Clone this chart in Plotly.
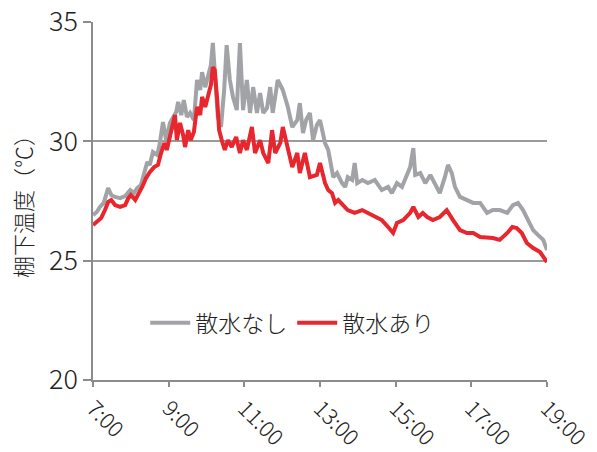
import plotly.graph_objects as go

# 棚下温度の推移（散水なし / 散水あり）
time_dry = ["7:00", "7:06", "7:11", "7:17", "7:24", "7:29", "7:35", "7:43", "7:51", "7:59",
            "8:05", "8:10", "8:16", "8:19", "8:26", "8:30", "8:35", "8:42", "8:46", "8:51",
            "8:56", "9:02", "9:07", "9:12", "9:15", "9:20", "9:24", "9:29", "9:34", "9:40",
            "9:45", "9:50", "9:53", "9:58", "10:02", "10:07", "10:10", "10:13", "10:18", "10:23",
            "10:28", "10:32", "10:37", "10:42", "10:48", "10:53", "10:58", "11:04", "11:09", "11:14",
            "11:20", "11:25", "11:30", "11:36", "11:41", "11:45", "11:53", "12:01", "12:09", "12:16",
            "12:24", "12:28", "12:33", "12:38", "12:44", "12:49", "12:55", "13:00", "13:05", "13:08",
            "13:13", "13:16", "13:21", "13:27", "13:35", "13:40", "13:44", "13:51", "13:55", "13:59",
            "14:07", "14:16", "14:27", "14:38", "14:48", "14:54", "15:02", "15:10", "15:18", "15:23",
            "15:28", "15:31", "15:39", "15:47", "15:55", "16:02", "16:10", "16:18", "16:23", "16:29",
            "16:34", "16:42", "16:53", "17:03", "17:14", "17:25", "17:34", "17:45", "17:57", "18:06",
            "18:14", "18:22", "18:30", "18:38", "18:46", "18:54", "19:00"]
temp_dry = [26.91, 27.04, 27.25, 27.42, 28.04, 27.75, 27.67, 27.62, 27.71, 27.96,
            27.83, 28.04, 28.17, 28.50, 29.13, 29.01, 29.55, 29.43, 29.93, 30.81,
            30.05, 30.77, 30.98, 31.23, 31.65, 31.10, 31.73, 31.02, 31.19, 30.89,
            32.57, 32.15, 32.90, 32.27, 32.69, 33.20, 34.12, 32.99, 31.02, 30.60,
            32.15, 34.03, 32.57, 31.86, 31.31, 34.12, 31.31, 32.57, 31.19, 32.27,
            31.19, 32.02, 31.19, 31.40, 32.27, 31.19, 32.57, 32.15, 31.44, 30.60,
            30.89, 31.60, 30.35, 30.89, 31.19, 30.05, 30.68, 30.89, 30.26, 29.93,
            29.64, 29.22, 28.50, 28.67, 28.25, 28.09, 28.50, 28.38, 29.09, 28.25,
            28.38, 28.25, 28.38, 27.96, 28.09, 27.83, 28.25, 28.09, 28.67, 28.92,
            29.72, 28.59, 28.67, 28.25, 28.59, 28.25, 27.83, 28.50, 29.01, 28.67,
            28.09, 27.67, 27.54, 27.42, 27.42, 27.00, 27.12, 27.12, 27.00, 27.33,
            27.42, 27.12, 26.70, 26.28, 26.07, 25.87, 25.45]

time_wet = ["7:00", "7:06", "7:13", "7:19", "7:24", "7:29", "7:35", "7:43", "7:51", "7:56",
            "8:00", "8:07", "8:13", "8:18", "8:24", "8:30", "8:37", "8:43", "8:48", "8:53",
            "8:57", "9:02", "9:07", "9:10", "9:13", "9:18", "9:23", "9:26", "9:31", "9:35",
            "9:40", "9:45", "9:50", "9:53", "9:58", "10:02", "10:07", "10:10", "10:13", "10:17",
            "10:20", "10:25", "10:29", "10:34", "10:40", "10:47", "10:53", "10:58", "11:04", "11:12",
            "11:17", "11:25", "11:30", "11:38", "11:44", "11:49", "11:57", "12:01", "12:08", "12:16",
            "12:24", "12:28", "12:36", "12:44", "12:55", "13:00", "13:08", "13:13", "13:19", "13:24",
            "13:29", "13:36", "13:44", "13:55", "14:07", "14:16", "14:27", "14:38", "14:48", "14:56",
            "15:02", "15:12", "15:23", "15:28", "15:36", "15:43", "15:50", "15:59", "16:10", "16:21",
            "16:31", "16:42", "16:53", "17:03", "17:14", "17:25", "17:34", "17:45", "17:57", "18:05",
            "18:12", "18:20", "18:28", "18:38", "18:49", "19:00"]
temp_wet = [26.49, 26.62, 26.79, 27.12, 27.46, 27.54, 27.33, 27.25, 27.33, 27.62,
            27.75, 27.54, 27.83, 28.09, 28.46, 28.71, 28.92, 29.01, 29.51, 29.93,
            29.64, 30.26, 30.89, 31.10, 30.05, 30.77, 30.26, 29.76, 30.47, 30.05,
            30.39, 31.44, 31.10, 31.86, 31.44, 31.86, 32.36, 33.11, 32.99, 31.73,
            30.47, 29.97, 29.64, 30.05, 29.76, 30.18, 29.51, 30.05, 29.64, 30.60,
            29.51, 30.05, 29.51, 29.09, 30.47, 29.51, 29.93, 30.60, 29.76, 28.92,
            29.51, 28.67, 29.51, 28.50, 28.59, 29.09, 28.25, 27.96, 27.83, 27.42,
            27.54, 27.33, 27.12, 27.00, 27.12, 27.00, 26.83, 26.70, 26.41, 26.16,
            26.58, 26.70, 27.00, 27.25, 26.83, 27.00, 26.83, 26.70, 26.83, 27.12,
            26.70, 26.28, 26.16, 26.16, 25.99, 25.99, 25.95, 25.87, 26.16, 26.41,
            26.37, 26.16, 25.74, 25.53, 25.36, 24.94]

tick_hours = [7, 9, 11, 13, 15, 17, 19]
tick_labels = ["7:00", "9:00", "11:00", "13:00", "15:00", "17:00", "19:00"]


def to_hours(s):
    h, m = s.split(":")
    return int(h) + int(m) / 60


FONT = "Noto Sans CJK JP"
AXIS_GRAY = "#8c8c8c"
TEXT = "#222222"

fig = go.Figure()
fig.add_trace(go.Scatter(
    x=[to_hours(t) for t in time_dry], y=temp_dry, mode="lines", name="散水なし",
    line=dict(color="#a2a3a6", width=4),
))
fig.add_trace(go.Scatter(
    x=[to_hours(t) for t in time_wet], y=temp_wet, mode="lines", name="散水あり",
    line=dict(color="#e8262d", width=4),
))

fig.update_layout(
    width=597, height=452,
    margin=dict(l=93, r=50, t=22, b=72),
    paper_bgcolor="white", plot_bgcolor="white",
    font=dict(family=FONT, color=TEXT, weight=300),
    showlegend=True,
    legend=dict(
        orientation="h", x=0.115, y=0.16, xanchor="left", yanchor="middle",
        bgcolor="rgba(0,0,0,0)", font=dict(size=23, color=TEXT, weight=300),
        itemwidth=40, tracegroupgap=0,
    ),
    xaxis=dict(
        range=[7, 19], tickmode="array", tickvals=tick_hours, ticktext=tick_labels,
        tickangle=45, tickfont=dict(size=22, color=TEXT, weight=300),
        showgrid=False, zeroline=False, automargin=False,
        showline=True, linecolor=AXIS_GRAY, linewidth=1.5,
        ticks="outside", ticklen=5, tickcolor=AXIS_GRAY, tickwidth=1.5,
    ),
    yaxis=dict(
        range=[20, 35], tickmode="array", tickvals=[20, 25, 30, 35],
        tickfont=dict(size=27, color=TEXT, weight=300),
        showgrid=True, gridcolor="#9a9a9a", gridwidth=1.5, zeroline=False, automargin=False,
        showline=True, linecolor=AXIS_GRAY, linewidth=1.5,
        ticks="outside", ticklen=8, tickcolor=AXIS_GRAY, tickwidth=1.5,
        title=dict(text="棚下温度（℃）", font=dict(size=22, color=TEXT, weight=300), standoff=10),
    ),
)

fig.write_html("out.html")
